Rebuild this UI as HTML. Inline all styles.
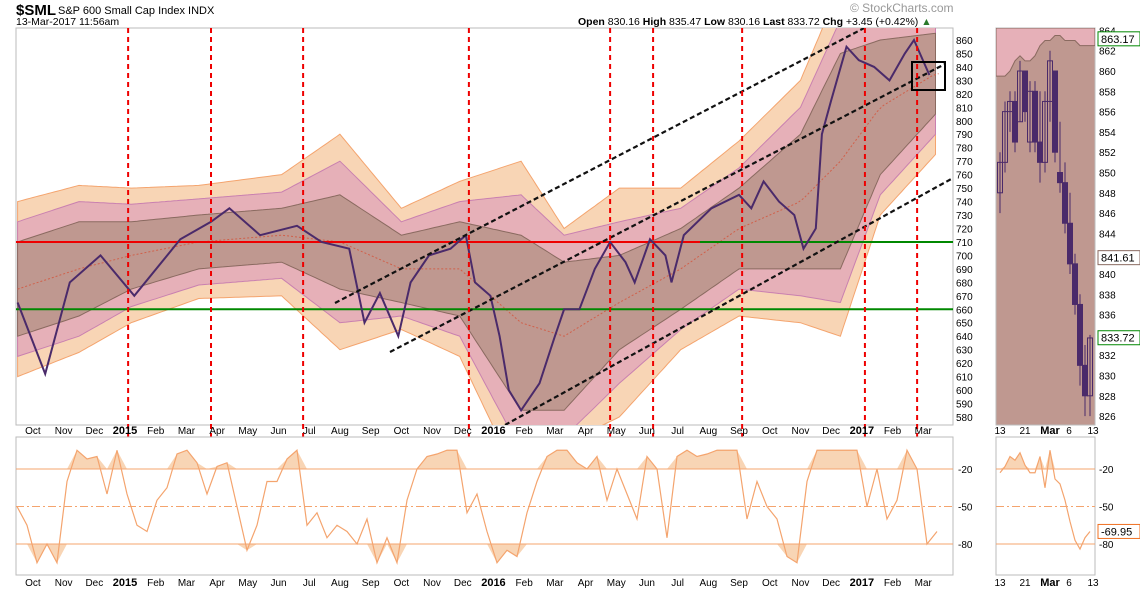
<!DOCTYPE html>
<html><head><meta charset="utf-8">
<style>
body{margin:0;background:#fff;font-family:"Liberation Sans",sans-serif;}
svg text{font-family:"Liberation Sans",sans-serif;}
</style></head>
<body>
<svg id="c" width="1140" height="591" xmlns="http://www.w3.org/2000/svg">
<text x="16" y="15" font-size="15" font-weight="bold">$SML</text>
<text x="58" y="14" font-size="11">S&amp;P 600 Small Cap Index INDX</text>
<text x="16" y="25" font-size="10.5">13-Mar-2017 11:56am</text>
<text x="578" y="25" font-size="10.5"><tspan font-weight="bold">Open</tspan> 830.16  <tspan font-weight="bold">High</tspan> 835.47  <tspan font-weight="bold">Low</tspan> 830.16  <tspan font-weight="bold">Last</tspan> 833.72  <tspan font-weight="bold">Chg</tspan> +3.45 (+0.42%) <tspan fill="#2a7a2a">▲</tspan></text>
<text x="850" y="12" font-size="12" fill="#999">© StockCharts.com</text>
<g id="main"></g>
</svg>
<script>
// ---- data ----
const priceT=[0,0.9,1.7,2.7,3.8,5.3,6.3,6.9,7.9,9.1,9.9,10.8,11.3,11.8,12.4,12.8,13.4,14.1,14.6,14.9,15.4,15.7,16.0,16.4,17.0,17.5,17.8,18.3,18.8,19.3,19.8,20.1,20.6,21.1,21.3,21.7,22.6,23.5,23.9,24.3,24.8,25.3,25.6,26.0,26.2,26.5,27.0,27.4,27.9,28.4,28.9,29.2,29.7];
const priceV=[665,612,680,700,670,712,725,735,715,722,710,705,650,672,640,680,700,705,715,680,670,640,600,585,605,640,660,660,690,710,695,680,712,700,680,715,735,745,735,755,740,730,705,720,790,815,855,845,840,830,850,860,834];
const bandT=[0,2.0,3.7,5.9,8.6,10.5,12.5,14.4,16.4,17.8,19.6,21.6,23.5,25.5,26.8,28.1,29.9];
const bandMid=[675,690,700,710,715,710,690,690,650,640,665,690,720,740,770,810,835];
const bandH1=[35,35,25,20,20,35,25,35,65,55,35,30,30,50,80,50,30];
const bandH2=[50,50,38,32,32,60,35,50,95,75,60,45,45,70,105,65,45];
const bandH3=[65,62,50,42,45,80,45,65,120,80,85,60,65,90,130,80,60];
const monthLabels=["Oct","Nov","Dec","2015","Feb","Mar","Apr","May","Jun","Jul","Aug","Sep","Oct","Nov","Dec","2016","Feb","Mar","Apr","May","Jun","Jul","Aug","Sep","Oct","Nov","Dec","2017","Feb","Mar"];
const priceTicks=[580,590,600,610,620,630,640,650,660,670,680,690,700,710,720,730,740,750,760,770,780,790,800,810,820,830,840,850,860];
const eventT=[3.6,6.3,9.3,14.7,19.3,20.7,23.6,27.6,29.3];
const wr=[-50,-65,-95,-80,-95,-30,-5,-12,-10,-40,-5,-40,-65,-70,-45,-35,-8,-5,-15,-40,-18,-15,-50,-85,-65,-30,-30,-12,-5,-65,-55,-75,-65,-70,-80,-60,-95,-75,-95,-45,-20,-10,-8,-5,-5,-55,-40,-70,-95,-85,-90,-55,-30,-10,-5,-5,-15,-20,-10,-45,-20,-40,-60,-10,-20,-75,-10,-5,-10,-8,-5,-5,-5,-60,-30,-50,-60,-90,-95,-30,-5,-5,-5,-5,-5,-50,-20,-60,-45,-5,-20,-80,-70];
const wrTicks=[-20,-50,-80];
const cOpen=[848,851,856,857,855,860,853,858,853,851,857,860,850,849,845,841,837,831,828];
const cHigh=[852,857,858,858,861,860,859,859,858,858,862,860,855,851,848,842,838,833,834];
const cLow=[846,850,854,852,855,855,852,852,849,850,855,851,848,844,840,836,829,826,826];
const cClose=[851,856,857,853,860,856,858,853,851,857,861,852,849,845,841,837,831,828,833.7];
const miniBandTop=[859.5,859.5,860,861,861.5,861,861,861.5,862.5,863,863,863.5,863.5,863,863,863,862.5,862.5,862.5];
const miniTicks=[826,828,830,832,834,836,838,840,842,844,846,848,850,852,854,856,858,860,862,864];
const miniWr=[-23,-18,-10,-13,-7,-17,-23,-23,-10,-35,-5,-28,-32,-45,-62,-77,-84,-75,-70];
const miniLabels=["13","21","Mar","6","13"];

// ---- scales ----
const NS="http://www.w3.org/2000/svg";
const svg=document.getElementById('main');
const X=t=>17.6+t*30.7;
const Y=v=>40+(860-v)*1.3464;
const WY=v=>444-v*1.25;
const MX=i=>1000+i*5.0;
const MY=v=>71+(860-v)*10.15;
function mk(tag,attrs,parent){const e=document.createElementNS(NS,tag);for(const k in attrs)e.setAttribute(k,attrs[k]);(parent||svg).appendChild(e);return e;}
function interp(ts,vs,t){if(t<=ts[0])return vs[0];for(let i=1;i<ts.length;i++){if(t<=ts[i]){const f=(t-ts[i-1])/(ts[i]-ts[i-1]);return vs[i-1]+f*(vs[i]-vs[i-1]);}}return vs[vs.length-1];}

const defs=mk('defs',{});
const cp=mk('clipPath',{id:'cm'},defs);mk('rect',{x:16,y:28,width:937,height:397},cp);
const cp2=mk('clipPath',{id:'cm2'},defs);mk('rect',{x:996,y:28,width:99,height:397},cp2);

const frame=mk('rect',{x:16,y:28,width:937,height:397,fill:'#fff',stroke:'#bbb'});



const gb=mk('g',{'clip-path':'url(#cm)'});
const bands=[[bandH3,'#f8d5b5','#f4a46e'],[bandH2,'#e6b0b8','#c980b0'],[bandH1,'#bf9890','#8a6a60']];
const names=['outer-envelope-band','middle-envelope-band','inner-envelope-band'];
bands.forEach((b,bi)=>{
  let up=[],lo=[];
  for(let t=0;t<=30;t+=0.1){const m=interp(bandT,bandMid,t),h=interp(bandT,b[0],t);up.push(X(t).toFixed(1)+','+Y(m+h).toFixed(1));lo.unshift(X(t).toFixed(1)+','+Y(m-h).toFixed(1));}
  const p=mk('polygon',{points:up.concat(lo).join(' '),fill:b[1],stroke:b[2],'stroke-width':1},gb);
  
  
});
let mid=[];for(let t=0;t<=30;t+=0.2)mid.push(X(t).toFixed(1)+','+Y(interp(bandT,bandMid,t)).toFixed(1));
const ml=mk('polyline',{points:mid.join(' '),fill:'none',stroke:'#d0604a','stroke-width':1,'stroke-dasharray':'2,2'},gb);



const h1=mk('line',{x1:16,x2:700,y1:Y(710),y2:Y(710),stroke:'#e00','stroke-width':2},gb);


const h1b=mk('line',{x1:700,x2:953,y1:Y(710),y2:Y(710),stroke:'#080','stroke-width':2},gb);


const h2=mk('line',{x1:16,x2:953,y1:Y(660),y2:Y(660),stroke:'#080','stroke-width':2},gb);



const pp=priceT.map((t,i)=>X(t).toFixed(1)+','+Y(priceV[i]).toFixed(1)).join(' ');
const pl=mk('polyline',{points:pp,fill:'none',stroke:'#4a2a6a','stroke-width':2},gb);



[[335,303,870,25],[390,352,945,64],[505,425,953,178]].forEach((l,i)=>{
  const e=mk('line',{x1:l[0],y1:l[1],x2:l[2],y2:l[3],stroke:'#111','stroke-width':2.2,'stroke-dasharray':'5,3'},gb);
  
  
});
const bx=mk('rect',{x:912,y:62,width:33,height:28,fill:'none',stroke:'#000','stroke-width':2});



eventT.forEach(t=>{
  const e=mk('line',{x1:X(t),x2:X(t),y1:28,y2:577,stroke:'#e00','stroke-width':2,'stroke-dasharray':'5,4'});
  
  
});

priceTicks.forEach(v=>{
  const t=mk('text',{x:956,y:Y(v)+4,'font-size':10});t.textContent=v;
  
  
});
monthLabels.forEach((m,i)=>{
  [434,586].forEach(yy=>{
    const bold=/^\d{4}$/.test(m);
    const t=mk('text',{x:X(i+0.5),y:yy,'font-size':bold?11:10,'font-weight':bold?'bold':'normal','text-anchor':'middle'});t.textContent=m;
    
    
  });
});

const lf=mk('rect',{x:16,y:437,width:937,height:138,fill:'#fff',stroke:'#bbb'});


const wx=i=>17+i*10;
let fillTop='M'+wx(0)+','+WY(-20);
wr.forEach((v,i)=>{fillTop+=' L'+wx(i)+','+WY(Math.max(v,-20));});
fillTop+=' L'+wx(wr.length-1)+','+WY(-20)+'Z';
const ft=mk('path',{d:fillTop,fill:'#f8d5b5'});


let fillBot='M'+wx(0)+','+WY(-80);
wr.forEach((v,i)=>{fillBot+=' L'+wx(i)+','+WY(Math.min(v,-80));});
fillBot+=' L'+wx(wr.length-1)+','+WY(-80)+'Z';
const fb=mk('path',{d:fillBot,fill:'#f8d5b5'});


wrTicks.forEach(v=>{
  const l=mk('line',{x1:16,x2:953,y1:WY(v),y2:WY(v),stroke:'#f4a46e','stroke-width':1,'stroke-dasharray':v===-50?'8,3,2,3':''});
  
  
  const t=mk('text',{x:958,y:WY(v)+4,'font-size':10});t.textContent=v;
  
  
});
const wl=mk('polyline',{points:wr.map((v,i)=>wx(i)+','+WY(v)).join(' '),fill:'none',stroke:'#f4a46e','stroke-width':1.2});



const mf=mk('rect',{x:996,y:28,width:99,height:397,fill:'#bf9890',stroke:'#bbb'});


const mg=mk('g',{'clip-path':'url(#cm2)'});
let ptop='M996,28 L1095,28 L1095,'+MY(miniBandTop[miniBandTop.length-1]);
for(let i=miniBandTop.length-1;i>=0;i--)ptop+=' L'+MX(i)+','+MY(miniBandTop[i]);
ptop+=' L996,'+MY(miniBandTop[0])+'Z';
const pt=mk('path',{d:ptop,fill:'#e6b0b8',stroke:'#8a6a60'},mg);


cOpen.forEach((o,i)=>{
  const c=cClose[i],x=MX(i);
  const w=mk('line',{x1:x,x2:x,y1:MY(cHigh[i]),y2:MY(cLow[i]),stroke:'#4a2a6a','stroke-width':1},mg);
  
  
  const r=mk('rect',{x:x-2.5,y:MY(Math.max(o,c)),width:5,height:Math.max(1,Math.abs(MY(o)-MY(c))),fill:c>=o?'none':'#4a2a6a',stroke:'#4a2a6a'},mg);
  
  
});
miniTicks.forEach(v=>{
  const t=mk('text',{x:1099,y:MY(v)+4,'font-size':10});t.textContent=v;
  
  
});
const tag=(y,txt,col,name)=>{
  const r=mk('rect',{x:1098,y:y-7,width:42,height:14,fill:'#fff',stroke:col});
  
  
  const t=mk('text',{x:1101,y:y+4,'font-size':11});t.textContent=txt;
  
  
};
tag(MY(863.17),'863.17','#080','upper-band-tag');
tag(MY(841.61),'841.61','#8a6a60','ma-tag');
tag(MY(833.72),'833.72','#080','last-price-tag');
const mlf=mk('rect',{x:996,y:437,width:99,height:138,fill:'#fff',stroke:'#bbb'});


let mft='M'+MX(0)+','+WY(-20);miniWr.forEach((v,i)=>{mft+=' L'+MX(i)+','+WY(Math.max(v,-20));});mft+=' L'+MX(miniWr.length-1)+','+WY(-20)+'Z';
const mfp=mk('path',{d:mft,fill:'#f8d5b5'});


wrTicks.forEach(v=>{
  const l=mk('line',{x1:996,x2:1095,y1:WY(v),y2:WY(v),stroke:'#f4a46e','stroke-dasharray':v===-50?'8,3,2,3':''});
  
  
  const t=mk('text',{x:1099,y:WY(v)+4,'font-size':10});t.textContent=v;
  
  
});
const mwl=mk('polyline',{points:miniWr.map((v,i)=>MX(i)+','+WY(v)).join(' '),fill:'none',stroke:'#f4a46e','stroke-width':1.2});


tag(WY(-69.95),'-69.95','#f07020','wr-last-tag');
const mlx=[1000,1025,1050,1069,1093];
miniLabels.forEach((m,i)=>{
  [434,586].forEach(yy=>{
    const t=mk('text',{x:mlx[i],y:yy,'font-size':m==='Mar'?11:10,'font-weight':m==='Mar'?'bold':'normal','text-anchor':'middle'});t.textContent=m;
    
    
  });
});
</script>
</body></html>
